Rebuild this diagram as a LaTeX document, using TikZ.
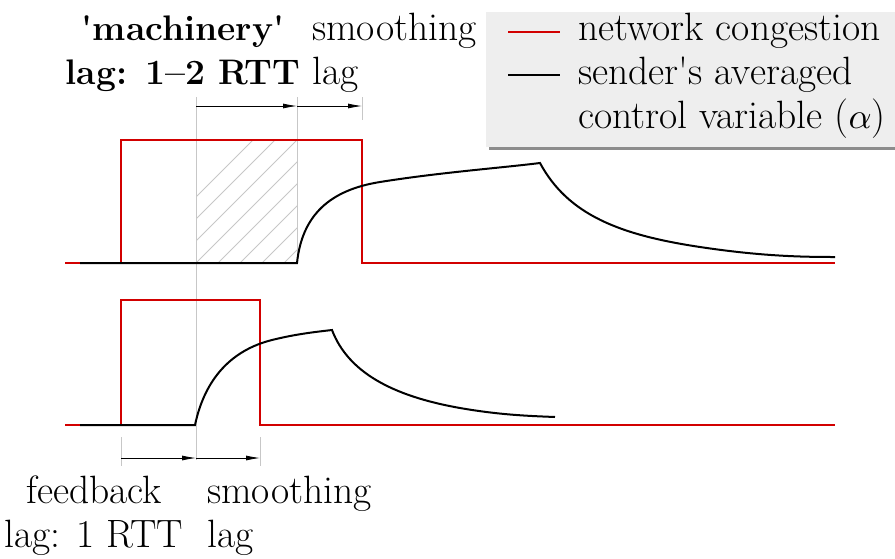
\documentclass[tikz,border=0pt]{standalone}
\usepackage{fontspec}
\usepackage{graphicx}
\setmainfont{Latin Modern Roman}
\newfontfamily\straightfont{Latin Modern Roman}[Ligatures=ResetAll]
\newcommand{\sq}{{\straightfont\symbol{39}}}
\newcommand{\sqb}{{\straightfont\bfseries\symbol{39}}}
\newcommand{\bigalpha}{\scalebox{3.6}{\fontsize{10}{12}\selectfont$\alpha$}}
\usetikzlibrary{arrows.meta}
\definecolor{cong}{RGB}{210,0,0}
\definecolor{legbg}{RGB}{238,238,238}
\tikzset{
  cong/.style={draw=cong, line width=2pt},
  ctrl/.style={draw=black, line width=2pt},
  guide/.style={draw=black!22, line width=0.9pt},
  hatch/.style={draw=black!22, line width=0.8pt},
  lagarrow/.style={draw=black, line width=0.8pt, -{Latex[length=14pt,width=5pt]}},
  lbl/.style={inner sep=0pt, font=\fontsize{39.5}{44}\selectfont},
  blbl/.style={inner sep=0pt, font=\fontsize{35.5}{44}\selectfont\bfseries},
}
\begin{document}
\begin{tikzpicture}[x=1pt,y=-1pt]
\useasboundingbox (0,0) rectangle (895,558);

% legend
\fill[black!45] (489,15) rectangle (895,150);
\fill[legbg] (486,12) rectangle (895,147);
\coordinate (lr1) at (508,32); \coordinate (lr2) at (560,32);
\coordinate (lb1) at (508,75); \coordinate (lb2) at (560,75);
\draw[cong] (lr1) -- (lr2);
\draw[ctrl, line width=1.6pt] (lb1) -- (lb2);
\node[lbl, anchor=base west] (leg1) at (578,40) {network congestion};
\node[lbl, anchor=base west] (leg2) at (578,84) {sender\sq s averaged};
\node[lbl, anchor=base west] (leg3) at (578,128) {control variable (\bigalpha)};

% top labels
\node[blbl, anchor=base] (mach1) at (183,40) {\sqb machinery\sqb};
\node[blbl, anchor=base] (mach2) at (183,84) {lag: 1–2 RTT};
\node[lbl, anchor=base west] (smt1) at (312,40) {smoothing};
\node[lbl, anchor=base west] (smt2) at (312,84) {lag};

% bottom labels
\node[lbl, anchor=base] (fb1) at (94,503) {feedback};
\node[lbl, anchor=base] (fb2) at (94,547) {lag: 1 RTT};
\node[lbl, anchor=base west] (sb1) at (207,503) {smoothing};
\node[lbl, anchor=base west] (sb2) at (207,547) {lag};

% hatched region
\begin{scope}
  \clip (196,140) rectangle (297,263);
  \foreach \a in {130,152,...,330} {
    \draw[hatch] (\a,263) -- ++(123,-123);
  }
\end{scope}

% guide lines
\coordinate (gA1) at (196,97);  \coordinate (gA2) at (196,460);
\coordinate (gB1) at (297,97);  \coordinate (gB2) at (297,263);
\coordinate (gC1) at (362,97);  \coordinate (gC2) at (362,120);
\coordinate (gD1) at (121,437); \coordinate (gD2) at (121,466);
\coordinate (gE1) at (260,437); \coordinate (gE2) at (260,466);
\draw[guide] (gA1) -- (gA2);
\draw[guide] (gB1) -- (gB2);
\draw[guide] (gC1) -- (gC2);
\draw[guide] (gD1) -- (gD2);
\draw[guide] (gE1) -- (gE2);

% lag arrows
\coordinate (tA) at (196,106); \coordinate (tB) at (297,106); \coordinate (tC) at (362,106);
\draw[lagarrow] (tA) -- (tB);
\draw[lagarrow] (tB) -- (tC);
\coordinate (bA) at (121,458); \coordinate (bB) at (196,458); \coordinate (bC) at (260,458);
\draw[lagarrow] (bA) -- (bB);
\draw[lagarrow] (bB) -- (bC);

% top plot
\draw[cong] (65,263) -- (121,263) -- (121,140) -- (362,140) -- (362,263) -- (835,263);
\draw[ctrl] (80,263) -- (297,263)
  .. controls (302,215) and (330,190) .. (380,182)
  .. controls (440,172.4) and (500,168) .. (540,163)
  .. controls (568,215) and (620,235) .. (700,247)
  .. controls (760,256) and (800,257) .. (835,257);

% bottom plot
\draw[cong] (65,425) -- (121,425) -- (121,300) -- (260,300) -- (260,425) -- (835,425);
\draw[ctrl] (80,425) -- (195,425)
  .. controls (205,378) and (232,350) .. (272,340)
  .. controls (296,334) and (315,332) .. (332,330)
  .. controls (348,372) and (392,396) .. (460,408)
  .. controls (500,415) and (530,416) .. (555,417);
\end{tikzpicture}
\end{document}
